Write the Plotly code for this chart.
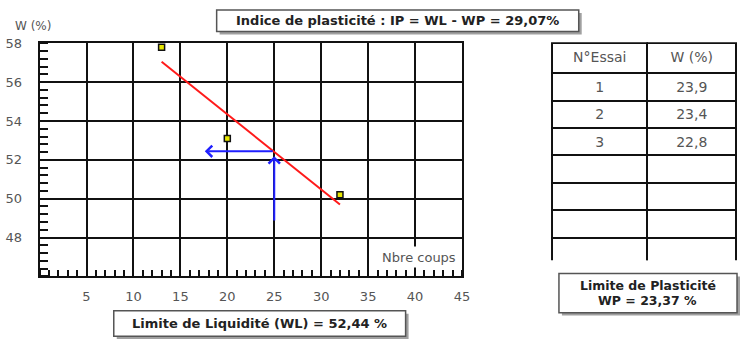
import plotly.graph_objects as go

W, H = 747, 344

# ---- data ----
coups = [13.0, 20.0, 32.0]
teneur_eau = [57.8, 53.1, 50.2]
droite_x = [13.0, 32.0]
droite_y = [57.05, 49.7]
wl_coups = 25
wl_valeur = 52.44
fleche_h_fin = 17.6
fleche_v_debut = 48.8
x_ticks = [5, 10, 15, 20, 25, 30, 35, 40, 45]
y_ticks = [48, 50, 52, 54, 56, 58]
essais = ["1", "2", "3", "", "", "", ""]
w_essais = ["23,9", "23,4", "22,8", "", "", "", ""]
titre_ip = "Indice de plasticité : IP = WL - WP = 29,07%"
titre_wl = "Limite de Liquidité (WL) = 52,44 %"
titre_wp1 = "Limite de Plasticité"
titre_wp2 = "WP = 23,37 %"


def px(x):
    return x / W


def py(y):
    return 1 - y / H


FONT = "DejaVu Sans"
GRAY = "#555"

fig = go.Figure()

fig.add_trace(go.Scatter(x=droite_x, y=droite_y, mode="lines",
                         line=dict(color="#ff1a1a", width=2), hoverinfo="skip"))
fig.add_trace(go.Scatter(x=coups, y=teneur_eau, mode="markers", cliponaxis=False,
                         marker=dict(symbol="square", size=6, color="#e6e600",
                                     line=dict(color="#111", width=1.5))))

fig.add_trace(go.Table(
    domain=dict(x=[px(558), px(745)], y=[py(259), py(37)]),
    columnwidth=[97, 90],
    header=dict(values=["N°Essai", "W (%)"], height=30, align="center",
                fill_color="white", line=dict(color="#111", width=2),
                font=dict(family=FONT, size=14, color=GRAY)),
    cells=dict(values=[essais, w_essais], height=27.4, align="center",
               fill_color="white", line=dict(color="#111", width=2),
               font=dict(family=FONT, size=14, color=GRAY)),
))

shapes = []
annotations = []


def box(x0, y0, x1, y1):
    shapes.append(dict(type="rect", xref="paper", yref="paper",
                       x0=px(x0 + 3), x1=px(x1 + 3), y0=py(y1 + 3), y1=py(y0 + 3),
                       fillcolor="#a0a0a0", line=dict(width=0)))
    shapes.append(dict(type="rect", xref="paper", yref="paper",
                       x0=px(x0), x1=px(x1), y0=py(y1), y1=py(y0),
                       fillcolor="white", line=dict(color="#555", width=1.5)))


def label(text, x, y, size=13, bold=True, color="#222"):
    annotations.append(dict(text=text, xref="paper", yref="paper", x=px(x), y=py(y),
                            xanchor="center", yanchor="middle", showarrow=False,
                            font=dict(family=FONT, size=size, color=color,
                                      weight="bold" if bold else "normal")))


box(219, 3, 585, 25)
label(titre_ip, 402, 14)
box(115, 310, 410, 336)
label(titre_wl, 262.5, 323)
box(565, 272, 745, 312)
label(titre_wp1, 655, 284, size=12.5)
label(titre_wp2, 655, 300, size=12.5)

label("W (%)", 33, 19, size=12, bold=False, color=GRAY)

annotations.append(dict(text="Nbre coups", xref="paper", yref="paper",
                        x=px(424), y=py(255), xanchor="center", yanchor="middle",
                        showarrow=False, bgcolor="white", width=78, height=16, borderpad=2,
                        font=dict(family=FONT, size=13, color=GRAY)))

# blue arrows
annotations.append(dict(x=wl_coups, y=wl_valeur - 0.25, ax=wl_coups, ay=fleche_v_debut,
                        xref="x", yref="y", axref="x", ayref="y", text="",
                        showarrow=True, arrowhead=4, arrowsize=1.1, arrowwidth=2,
                        arrowcolor="#2020ff"))
annotations.append(dict(x=fleche_h_fin, y=wl_valeur, ax=wl_coups, ay=wl_valeur,
                        xref="x", yref="y", axref="x", ayref="y", text="",
                        showarrow=True, arrowhead=4, arrowsize=1.1, arrowwidth=2,
                        arrowcolor="#2020ff"))

fig.update_layout(
    width=W, height=H, margin=dict(l=0, r=0, t=0, b=0),
    paper_bgcolor="white", plot_bgcolor="white", showlegend=False,
    shapes=shapes, annotations=annotations,
    xaxis=dict(domain=[px(40), px(467)], range=[0, 45], tickvals=x_ticks,
               showgrid=True, gridcolor="#111", gridwidth=2,
               showline=True, linecolor="#111", linewidth=2, mirror=True,
               zeroline=False, ticks="", ticklabelstandoff=7,
               tickfont=dict(family=FONT, size=13, color=GRAY),
               minor=dict(dtick=1, tick0=0, ticks="inside", ticklen=6, tickwidth=2,
                          tickcolor="#111", showgrid=False)),
    yaxis=dict(domain=[py(275), py(37)], range=[46, 58], tickvals=y_ticks,
               showgrid=True, gridcolor="#111", gridwidth=2,
               showline=True, linecolor="#111", linewidth=2, mirror=True,
               zeroline=False, ticks="", ticklabelstandoff=13,
               tickfont=dict(family=FONT, size=13, color=GRAY),
               minor=dict(dtick=0.4, tick0=46, ticks="inside", ticklen=8, tickwidth=2,
                          tickcolor="#111", showgrid=False)),
)

fig.write_html("out.html")
